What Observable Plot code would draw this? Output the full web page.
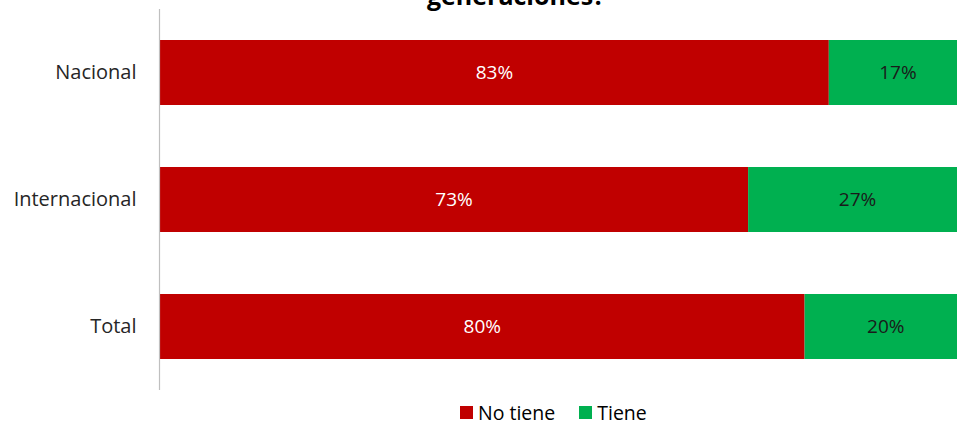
<!DOCTYPE html>
<html>
<head>
<meta charset="utf-8">
<script src="https://cdn.jsdelivr.net/npm/d3@7"></script>
<script src="https://cdn.jsdelivr.net/npm/@observablehq/plot@0.6"></script>
<style>
  html, body { margin: 0; padding: 0; background: #fff; }
  #wrap { position: relative; width: 957px; height: 425px; overflow: hidden; font-family: "Open Sans", sans-serif; }
  #title { position: absolute; left: 0; width: 1032px; text-align: center; top: -20px; font-size: 25px; font-weight: bold; color: #000; line-height: 30px; white-space: nowrap; }
  #chart { position: absolute; left: 0; top: 0; }
  #legend { position: absolute; top: 399px; left: 460px; font-size: 19.5px; color: #000; display: flex; align-items: center; white-space: nowrap; }
  .sw { display: inline-block; width: 13px; height: 13px; margin-right: 5px; }
</style>
</head>
<body>
<div id="wrap">
  <div id="chart"></div>
  <div id="title">generaciones?</div>
  <div id="legend"></div>
</div>
<script>
const categories = ["Nacional", "Internacional", "Total"];
const seriesNames = ["No tiene", "Tiene"];
const noTiene = [83, 73, 80];
const tiene = [17, 27, 20];
const colors = ["#C00000", "#00B050"];
const labelColors = ["#ffffff", "#1a1a1a"];

const data = [];
categories.forEach((c, i) => {
  data.push({cat: c, series: seriesNames[0], value: noTiene[i]});
  data.push({cat: c, series: seriesNames[1], value: tiene[i]});
});

const chart = Plot.plot({
  width: 966,
  height: 425,
  marginLeft: 159,
  marginRight: 0,
  marginTop: 9,
  marginBottom: 35,
  style: {fontFamily: "Open Sans, sans-serif", fontSize: "20px", background: "transparent", maxWidth: "none", color: "#262626"},
  x: {domain: [0, 100], axis: null},
  y: {domain: categories, paddingInner: 0.488, paddingOuter: 0.244, label: null, tickSize: 0, tickPadding: 23},
  color: {domain: seriesNames, range: colors},
  marks: [
    Plot.barX(data, Plot.stackX({x: "value", y: "cat", fill: "series", order: seriesNames})),
    Plot.text(data, Plot.stackX({
      x: "value", y: "cat", z: "series", order: seriesNames,
      text: d => d.value + "%",
      fill: d => labelColors[seriesNames.indexOf(d.series)],
      fontSize: 19
    })),
    Plot.ruleX([0], {stroke: "#bfbfbf", strokeWidth: 1.2})
  ]
});
chart.style.width = "966px";
chart.style.maxWidth = "none";
document.getElementById("chart").appendChild(chart);

const legend = document.getElementById("legend");
seriesNames.forEach((s, i) => {
  const item = document.createElement("span");
  item.style.display = "inline-flex";
  item.style.alignItems = "center";
  item.style.marginRight = "24px";
  item.innerHTML = `<span class="sw" style="background:${colors[i]}"></span>${s}`;
  legend.appendChild(item);
});
</script>
</body>
</html>
